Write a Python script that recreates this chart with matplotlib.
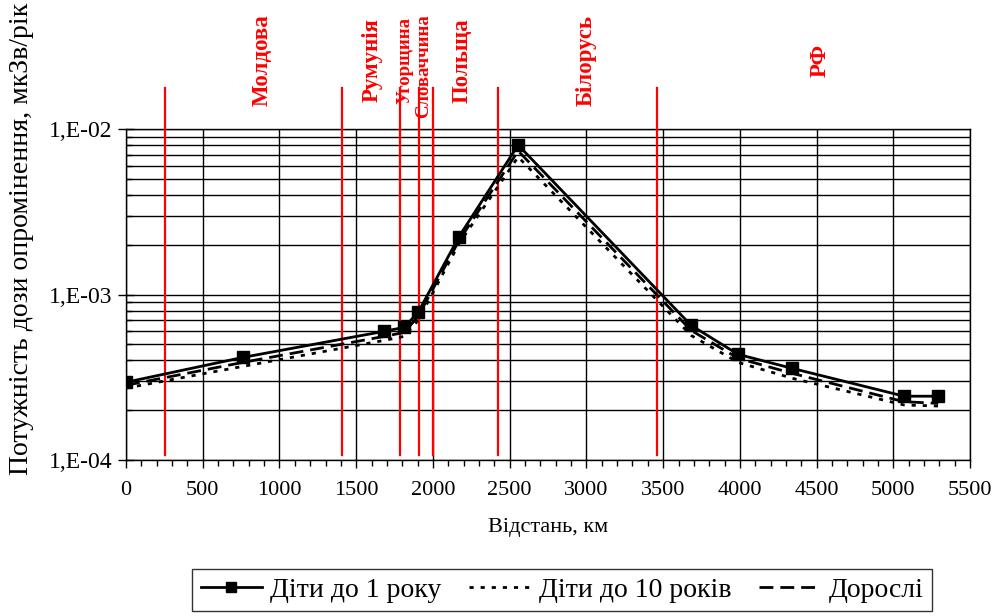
import numpy as np
import matplotlib
matplotlib.use("Agg")
import matplotlib.pyplot as plt
from matplotlib.ticker import LogLocator, FixedLocator, MultipleLocator, NullFormatter
from matplotlib.lines import Line2D

plt.rcParams['font.family'] = ['Liberation Serif', 'DejaVu Serif']

# distance, km
dist = [0, 762, 1681, 1812, 1903, 2170, 2555, 3682, 3988, 4340, 5070, 5292]
# dose rate, uSv/year
kids1 = [2.95e-4, 4.17e-4, 5.99e-4, 6.33e-4, 7.79e-4, 2.24e-3, 8.0e-3,
         6.51e-4, 4.35e-4, 3.58e-4, 2.43e-4, 2.43e-4]
kids10 = [2.72e-4, 3.68e-4, 5.28e-4, 5.58e-4, 6.97e-4, 2.03e-3, 6.78e-3,
          5.66e-4, 3.89e-4, 3.12e-4, 2.15e-4, 2.12e-4]
adults = [2.83e-4, 3.89e-4, 5.58e-4, 5.90e-4, 7.37e-4, 2.12e-3, 7.37e-3,
          6.07e-4, 4.12e-4, 3.34e-4, 2.25e-4, 2.20e-4]

# country borders along the route, km
borders = [254, 1408, 1786, 1909, 2001, 2424, 3460]
countries = ['Молдова', 'Румунія', 'Угорщина', 'Словаччина', 'Польща', 'Білорусь', 'РФ']
country_x = [886, 1603, 1818, 1942, 2190, 2998, 4523]

fig = plt.figure(figsize=(9.92, 6.16), dpi=100)
ax = fig.add_axes([0.127, 0.2532, 0.851, 0.5374])

ax.set_yscale('log')
ax.set_xlim(0, 5500)
ax.set_ylim(1e-4, 1e-2)

ax.xaxis.set_major_locator(MultipleLocator(500))
ax.xaxis.set_minor_locator(MultipleLocator(100))
ax.yaxis.set_major_locator(FixedLocator([1e-4, 1e-3, 1e-2]))
ax.yaxis.set_minor_locator(LogLocator(base=10, subs=np.arange(2, 10)))
ax.yaxis.set_minor_formatter(NullFormatter())
ax.set_yticklabels(['1,E-04', '1,E-03', '1,E-02'])

ax.grid(True, which='major', axis='x', color='black', lw=1)
ax.grid(True, which='both', axis='y', color='black', lw=1)
ax.tick_params(axis='x', which='major', direction='out', length=6, width=1, pad=9, labelsize=16)
ax.tick_params(axis='x', which='minor', direction='out', length=4, width=1)
ax.tick_params(axis='y', which='major', direction='inout', length=12, width=1, pad=4, labelsize=17)
ax.tick_params(axis='y', which='minor', direction='in', length=4, width=1)
for s in ax.spines.values():
    s.set_color('black')
    s.set_linewidth(1)

for b in borders:
    ax.plot([b, b], [1.07e-4, 1.77e-2], color='red', lw=1.6, clip_on=False, zorder=3)

ax.plot(dist, kids10, color='black', lw=2, ls=(0, (1.5, 2.5)), zorder=4)
ax.plot(dist, adults, color='black', lw=2, ls=(0, (5, 2.5)), zorder=4)
ax.plot(dist, kids1, color='black', lw=2, marker='s', ms=8, zorder=5)

for name, cx in zip(countries, country_x):
    small = name in ('Угорщина', 'Словаччина')
    y_pix = 60 if name != 'Словаччина' else 66
    ax.text(cx, 10 ** (-2 + (129 - y_pix) / 166), name, rotation=90, color='red',
            fontsize=13.5 if small else 16.5, fontweight='bold',
            ha='center', va='center', clip_on=False)

ax.set_xlabel('Відстань, км', fontsize=16, labelpad=13)
fig.text(0.022, 1 - 475 / 616, 'Потужність дози опромінення, мкЗв/рік',
         rotation=90, ha='center', va='bottom', fontsize=20)

handles = [Line2D([], [], color='black', lw=2, marker='s', ms=7),
           Line2D([], [], color='black', lw=2, ls=(0, (1.5, 2.5))),
           Line2D([], [], color='black', lw=2, ls=(0, (5, 2.5)))]
leg = fig.legend(handles, ['Діти до 1 року', 'Діти до 10 років', 'Дорослі'],
                 loc='center', bbox_to_anchor=(562 / 992, 1 - 590 / 616), ncol=3,
                 fontsize=20, frameon=True, fancybox=False, edgecolor='black',
                 handlelength=2.2, handletextpad=0.3, columnspacing=1.0,
                 borderpad=0.3)
leg.get_frame().set_linewidth(1)

fig.savefig('out.png', dpi=100)
